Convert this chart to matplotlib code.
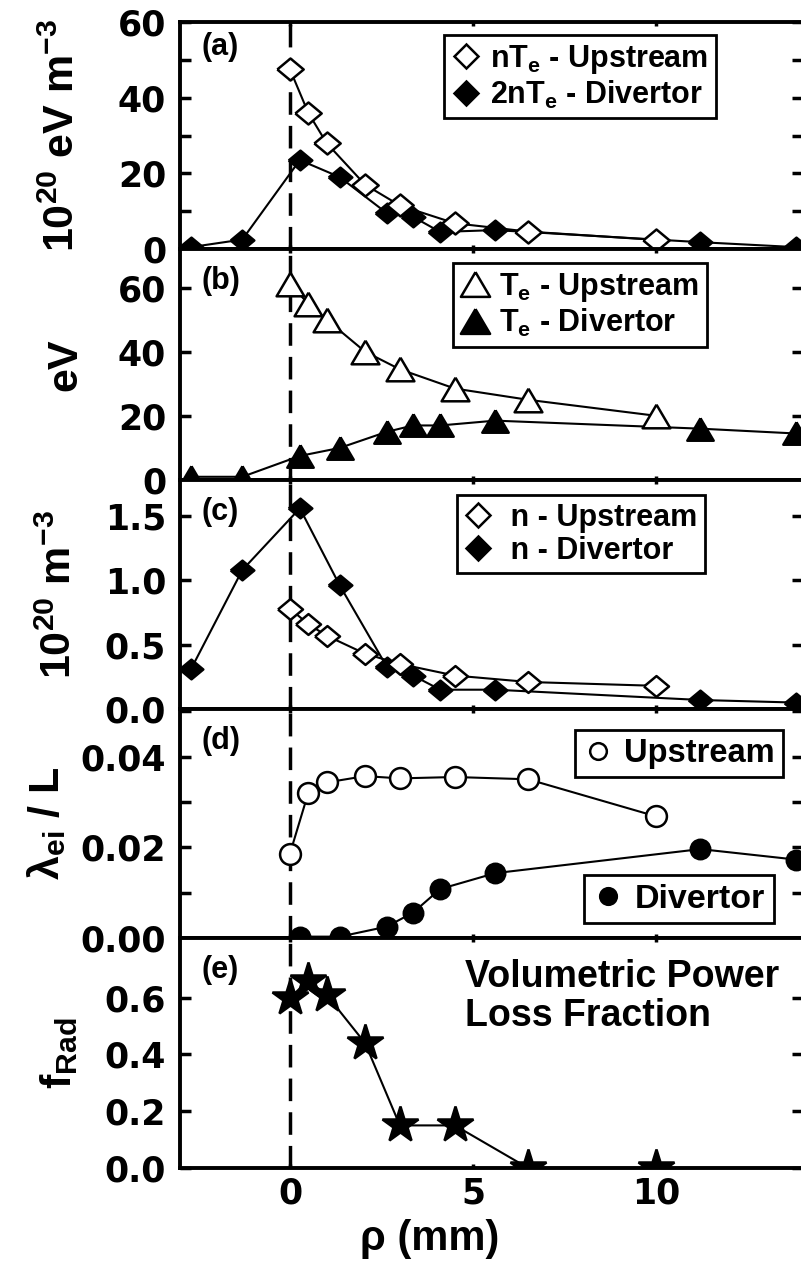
import matplotlib
matplotlib.use("Agg")
import matplotlib.pyplot as plt
from matplotlib.lines import Line2D
from matplotlib.ticker import MultipleLocator, FixedLocator, FormatStrFormatter

# x positions (mm)
x_up = [0.0, 0.5, 1.0, 2.05, 3.0, 4.5, 6.5, 10.0]
x_div = [-2.7, -1.3, 0.27, 1.36, 2.64, 3.36, 4.1, 5.6, 11.2, 13.8]
x_div_d = [0.27, 1.36, 2.64, 3.36, 4.1, 5.6, 11.2, 13.8]

# (a) pressure, 10^20 eV m^-3
nTe_up = [47.5, 36, 28, 17, 11.5, 6.8, 4.6, 2.4]
nTe2_div = [0.5, 2.5, 23.5, 19, 9.5, 8.5, 4.5, 5, 1.8, 0.5]
# (b) temperature, eV
Te_up = [61, 55, 50, 40, 34.5, 28.5, 25, 20]
Te_div = [1, 1, 7.5, 10, 15, 17, 17, 18.5, 16, 14.5]
# (c) density, 10^20 m^-3
n_up = [0.78, 0.66, 0.57, 0.43, 0.35, 0.26, 0.21, 0.18]
n_div = [0.31, 1.08, 1.56, 0.96, 0.33, 0.26, 0.15, 0.15, 0.07, 0.05]
# (d) lambda_ei / L
lam_up = [0.0186, 0.032, 0.0343, 0.0357, 0.0352, 0.0355, 0.0350, 0.0268]
lam_div = [0.0003, 0.0003, 0.0025, 0.0056, 0.0108, 0.0143, 0.0196, 0.0173]
# (e) f_Rad
f_rad = [0.60, 0.66, 0.61, 0.44, 0.15, 0.15, 0.0, 0.0]

plt.rcParams["font.family"] = "DejaVu Sans"
plt.rcParams["font.weight"] = "bold"
plt.rcParams["mathtext.default"] = "regular"

TXT = dict(family="Liberation Sans", weight="bold")
DIAM = [(-1.2, 0), (0, 1), (1.2, 0), (0, -1), (-1.2, 0)]
TRI = [(0, 0.85), (-1, -0.85), (1, -0.85), (0, 0.85)]

fig = plt.figure(figsize=(8.01, 12.75), dpi=100)
H = 1275.0
edges = [22, 249, 480, 709, 938, 1168]
left = 180 / 801
width = 623 / 801
axes = []
for i in range(5):
    t, b = edges[i], edges[i + 1]
    ax = fig.add_axes([left, 1 - b / H, width, (b - t) / H])
    axes.append(ax)

line_kw = dict(color="k", lw=1.5, mec="k", mew=1.8)
open_kw = dict(mfc="white", **line_kw)
fill_kw = dict(mfc="k", **line_kw)


def legend(ax, handles, labels, anchor, size=22):
    leg = ax.legend(handles, labels, loc="upper left", bbox_to_anchor=anchor,
                    frameon=True, fancybox=False, edgecolor="k", framealpha=1,
                    borderpad=0.25, handlelength=0.9, handletextpad=0.35,
                    labelspacing=0.1, borderaxespad=0,
                    prop=dict(size=size, **TXT))
    leg.get_frame().set_linewidth(2)
    return leg


def mk(marker, ms, filled):
    return Line2D([], [], ls="none", marker=marker, ms=ms,
                  mfc="k" if filled else "white", mec="k", mew=1.8)


# (a)
ax = axes[0]
ax.plot(x_div, nTe2_div, marker=DIAM, ms=17, zorder=3, **fill_kw)
ax.plot(x_up, nTe_up, marker=DIAM, ms=19, zorder=4, **open_kw)
ax.set_ylim(0, 60)
ax.yaxis.set_major_locator(MultipleLocator(20))
ax.yaxis.set_minor_locator(MultipleLocator(10))
ax.set_ylabel("10$^{20}$ eV m$^{-3}$", size=31, **TXT)
ax.yaxis.set_label_coords(-0.156, 0.5)
legend(ax, [mk("D", 12, False), mk("D", 12, True)],
       ["nT$_{e}$ - Upstream", "2nT$_{e}$ - Divertor"], (0.424, 0.943))

# (b)
ax = axes[1]
ax.plot(x_div, Te_div, marker=TRI, ms=19, zorder=3, **fill_kw)
ax.plot(x_up, Te_up, marker=TRI, ms=20, zorder=4, **open_kw)
ax.set_ylim(0, 72)
ax.yaxis.set_major_locator(MultipleLocator(20))
ax.set_ylabel("eV", size=31, **TXT)
ax.yaxis.set_label_coords(-0.152, 0.5)
legend(ax, [mk(TRI, 21, False), mk(TRI, 21, True)],
       ["T$_{e}$ - Upstream", "T$_{e}$ - Divertor"], (0.439, 0.939))

# (c)
ax = axes[2]
ax.plot(x_div, n_div, marker=DIAM, ms=17, zorder=3, **fill_kw)
ax.plot(x_up, n_up, marker=DIAM, ms=18, zorder=4, **open_kw)
ax.set_ylim(0, 1.78)
ax.yaxis.set_major_locator(MultipleLocator(0.5))
ax.yaxis.set_major_formatter(FormatStrFormatter("%.1f"))
ax.set_ylabel("10$^{20}$ m$^{-3}$", size=31, **TXT)
ax.yaxis.set_label_coords(-0.161, 0.5)
legend(ax, [mk("D", 12, False), mk("D", 12, True)],
       [" n - Upstream", " n - Divertor"], (0.444, 0.934))

# (d)
ax = axes[3]
ax.plot(x_div_d, lam_div, marker="o", ms=14, zorder=3, **fill_kw)
ax.plot(x_up, lam_up, marker="o", ms=15, zorder=4, **open_kw)
ax.set_ylim(0, 0.0505)
ax.yaxis.set_major_locator(MultipleLocator(0.02))
ax.yaxis.set_minor_locator(MultipleLocator(0.01))
ax.yaxis.set_major_formatter(FormatStrFormatter("%.2f"))
ax.set_ylabel("λ$_{ei}$ / L", size=31, **TXT)
ax.yaxis.set_label_coords(-0.18, 0.5)
leg1 = legend(ax, [mk("o", 12, False)], ["Upstream"], (0.634, 0.908), size=23.5)
ax.add_artist(leg1)
legend(ax, [mk("o", 12, True)], ["Divertor"], (0.648, 0.275), size=24.5)

# (e)
ax = axes[4]
ax.plot(x_up, f_rad, marker="*", ms=27, zorder=4, **fill_kw)
ax.set_ylim(0, 0.81)
ax.yaxis.set_major_locator(FixedLocator([0.0, 0.2, 0.4, 0.6]))
ax.yaxis.set_major_formatter(FormatStrFormatter("%.1f"))
ax.set_ylabel("f$_{Rad}$", size=31, **TXT)
ax.yaxis.set_label_coords(-0.16, 0.5)
ax.text(0.458, 0.91, "Volumetric Power\nLoss Fraction", transform=ax.transAxes,
        ha="left", va="top", size=27, linespacing=1.1, **TXT)
ax.set_xlabel("ρ (mm)", size=30, **TXT)
ax.xaxis.set_label_coords(0.401, -0.22)

for ax, lab, ly in zip(axes, "abcde", [0.89, 0.86, 0.86, 0.86, 0.86]):
    ax.axvline(0, color="k", lw=2.5, dashes=(6.5, 3.2), zorder=2)
    ax.set_xlim(-3, 14)
    ax.xaxis.set_major_locator(MultipleLocator(5))
    ax.text(0.035, ly, "(%s)" % lab, transform=ax.transAxes, ha="left",
            va="center", size=22, **TXT)
    for s in ax.spines.values():
        s.set_linewidth(2.8)
    ax.tick_params(axis="y", which="both", direction="in", left=True, right=True,
                   length=8, width=2.5, labelsize=25, pad=10)
    ax.tick_params(axis="x", which="both", direction="in", top=True, bottom=True,
                   length=3, width=2.5, labelsize=25, pad=6)
    if ax is not axes[-1]:
        ax.tick_params(axis="x", labelbottom=False)

fig.savefig("out.png", dpi=100)
